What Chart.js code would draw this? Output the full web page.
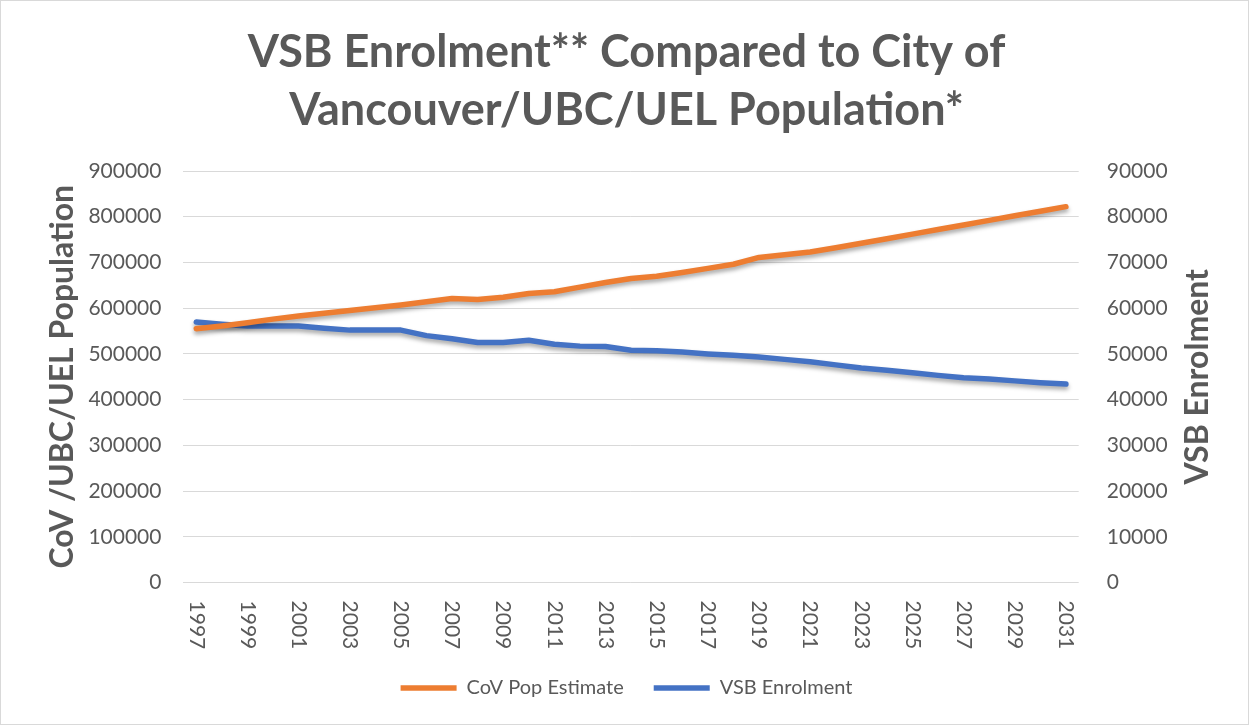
<!DOCTYPE html>
<html>
<head>
<meta charset="utf-8">
<script src="https://cdn.jsdelivr.net/npm/chart.js@4/dist/chart.umd.min.js"></script>
<style>
  html, body { margin: 0; padding: 0; background: #fff; }
  #wrap { width: 1247px; height: 723px; border: 1px solid #d9d9d9; }
</style>
</head>
<body>
<div id="wrap"><canvas id="chart"></canvas></div>
<script>
const years = ['1997','1998','1999','2000','2001','2002','2003','2004','2005','2006','2007','2008',
  '2009','2010','2011','2012','2013','2014','2015','2016','2017','2018','2019','2020','2021','2022',
  '2023','2024','2025','2026','2027','2028','2029','2030','2031'];

const covPop = [555000, 561000, 568000, 576000, 583000, 589000, 595000, 601000, 607000, 614000,
  621000, 619000, 624000, 632000, 636000, 646000, 656000, 665000, 670000, 678000, 687000, 696000,
  711000, 717000, 723000, 732000, 742000, 752000, 762000, 772000, 782000, 792000, 802000, 812000, 822000];

const vsbEnrol = [57000, 56500, 56100, 56100, 56100, 55600, 55200, 55200, 55200, 54000, 53300, 52500,
  52500, 53000, 52100, 51700, 51600, 50800, 50700, 50400, 50000, 49700, 49300, 48800, 48300, 47600,
  46900, 46400, 45900, 45300, 44800, 44500, 44100, 43700, 43400];

const grey = '#595959';
const orange = '#ed7d31';
const blue = '#4472c4';
const font = 'Lato, "Open Sans", sans-serif';

// soft drop shadow under each line, like the Excel original
const shadowPlugin = {
  id: 'shadow',
  beforeDatasetDraw(chart) {
    const ctx = chart.ctx;
    ctx.save();
    ctx.shadowColor = 'rgba(0,0,0,0.35)';
    ctx.shadowBlur = 4;
    ctx.shadowOffsetY = 3;
  },
  afterDatasetDraw(chart) {
    chart.ctx.restore();
  }
};

// x labels read top to bottom and the right title reads bottom to top,
// so both are drawn here from the scales' own positions
const extraText = {
  id: 'extraText',
  afterDraw(chart) {
    const ctx = chart.ctx;
    const x = chart.scales.x;
    const r = chart.scales.y1;
    ctx.save();
    ctx.fillStyle = grey;
    ctx.font = '21px ' + font;
    ctx.textAlign = 'left';
    ctx.textBaseline = 'middle';
    years.forEach((y, i) => {
      if (i % 2 !== 0) return;
      const px = x.getPixelForTick(i);
      ctx.save();
      ctx.translate(px, x.top + 18);
      ctx.rotate(Math.PI / 2);
      ctx.fillText(y, 0, 0);
      ctx.restore();
    });

    ctx.font = 'bold 32px ' + font;
    ctx.textAlign = 'center';
    ctx.translate(r.right - 40, (r.top + r.bottom) / 2);
    ctx.rotate(-Math.PI / 2);
    ctx.fillText('VSB Enrolment', 0, 0);
    ctx.restore();
  }
};

new Chart(document.getElementById('chart').getContext('2d'), {
  type: 'line',
  data: {
    labels: years,
    datasets: [
      {
        label: 'CoV Pop Estimate',
        data: covPop,
        borderColor: orange,
        backgroundColor: orange,
        borderWidth: 5.5,
        pointRadius: 0,
        borderCapStyle: 'round',
        borderJoinStyle: 'round',
        yAxisID: 'y'
      },
      {
        label: 'VSB Enrolment',
        data: vsbEnrol,
        borderColor: blue,
        backgroundColor: blue,
        borderWidth: 5.5,
        pointRadius: 0,
        borderCapStyle: 'round',
        borderJoinStyle: 'round',
        yAxisID: 'y1'
      }
    ]
  },
  options: {
    responsive: true,
    maintainAspectRatio: false,
    animation: false,
    layout: { padding: { left: 14, right: 10, top: 10, bottom: 16 } },
    plugins: {
      title: {
        display: true,
        text: ['VSB Enrolment** Compared to City of', 'Vancouver/UBC/UEL Population*'],
        color: grey,
        font: { family: font, size: 45, weight: 'bold', lineHeight: 1.3 },
        padding: { top: 12, bottom: 31 }
      },
      legend: {
        position: 'bottom',
        labels: {
          color: grey,
          font: { family: font, size: 20 },
          usePointStyle: true,
          pointStyle: 'line',
          pointStyleWidth: 56,
          padding: 30
        }
      },
      tooltip: { enabled: false }
    },
    scales: {
      x: {
        offset: true,
        grid: { display: false },
        border: { display: false },
        ticks: {
          autoSkip: false,
          minRotation: 90,
          maxRotation: 90,
          color: 'transparent',
          font: { family: font, size: 14 },
          padding: 12.5,
          callback: (v, i) => (i % 2 === 0 ? years[i] : '')
        }
      },
      y: {
        position: 'left',
        min: 0,
        max: 900000,
        grid: { color: '#d9d9d9', lineWidth: 1, drawTicks: false },
        border: { display: false },
        ticks: {
          stepSize: 100000,
          color: grey,
          font: { family: font, size: 21 },
          padding: 22,
          callback: v => String(v)
        },
        title: {
          display: true,
          text: 'CoV /UBC/UEL Population',
          color: grey,
          font: { family: font, size: 32, weight: 'bold' },
          padding: { top: 28, bottom: -15 }
        }
      },
      y1: {
        position: 'right',
        min: 0,
        max: 90000,
        grid: { display: false },
        border: { display: false },
        ticks: {
          stepSize: 10000,
          color: grey,
          font: { family: font, size: 21 },
          padding: 20,
          callback: v => String(v)
        },
        title: {
          display: true,
          text: 'VSB Enrolment',
          color: 'transparent',
          font: { family: font, size: 32, weight: 'bold' },
          padding: { top: 8 }
        }
      }
    }
  },
  plugins: [shadowPlugin, extraText]
});
</script>
</body>
</html>
